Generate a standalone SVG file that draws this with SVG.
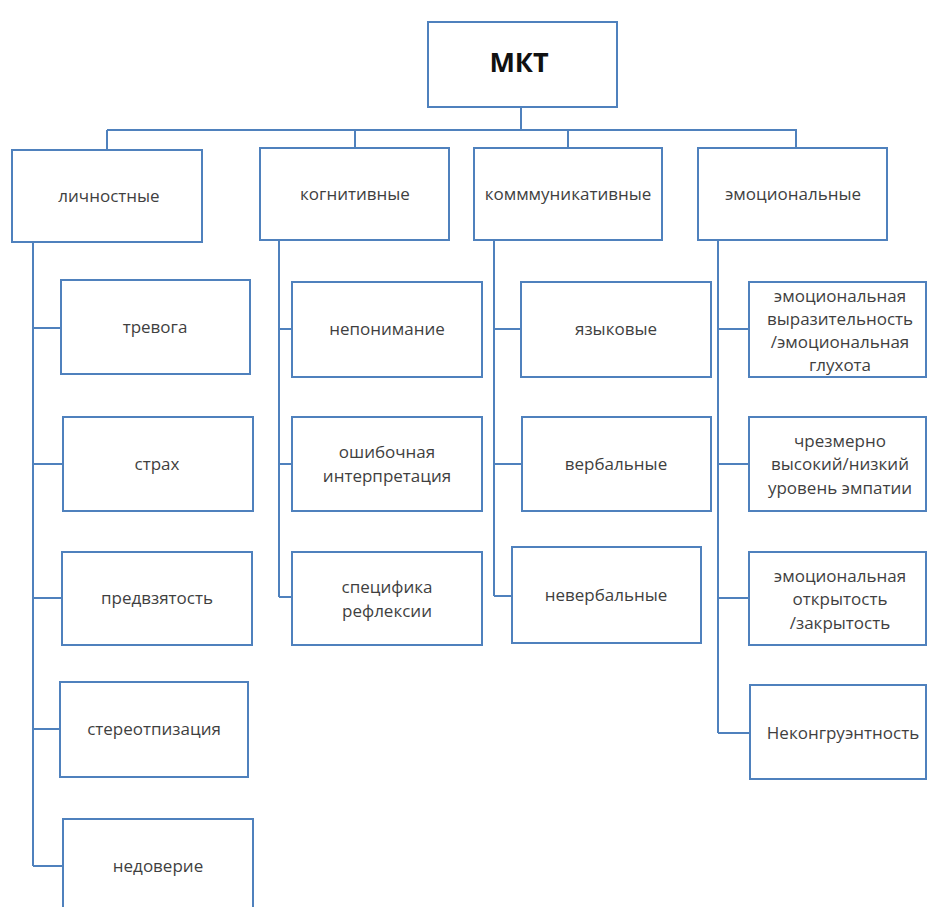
<svg xmlns="http://www.w3.org/2000/svg" width="928" height="907" viewBox="0 0 928 907">
<style>
.b{fill:#fff;stroke:#4f81bd;stroke-width:2}
.c{fill:none;stroke:#4f81bd;stroke-width:2}
.t{font-family:"Open Sans","Noto Sans",sans-serif;font-size:17px;fill:#3f3f3f;text-anchor:middle}
.h{font-family:"Open Sans","Noto Sans",sans-serif;font-size:27px;font-weight:bold;fill:#111;text-anchor:middle}
</style>
<rect width="928" height="907" fill="#fff"/>
<g id="connectors" class="c">
<path d="M521 107V130M107 130H797M107 130V150M355 130V148M568 130V148M796 130V148"/>
<path d="M33 242V866M33 328H61M33 464H63M33 598H62M33 729H60M33 866H63"/>
<path d="M279 240V597M279 329H292M279 464H292M279 597H292"/>
<path d="M494 240V596M494 329H521M494 464H522M494 596H512"/>
<path d="M718 240V733M718 329H749M718 464H749M718 598H749M718 733H750"/>
</g>
<g id="mkt"><rect class="b" x="428" y="22" width="189" height="85"/><text class="h" x="519" y="72">МКТ</text></g>
<g id="lichn"><rect class="b" x="12" y="150" width="190" height="92"/><text class="t" x="109" y="202">личностные</text></g>
<g id="kogn"><rect class="b" x="260" y="148" width="189" height="92"/><text class="t" x="355" y="200">когнитивные</text></g>
<g id="komm"><rect class="b" x="474" y="148" width="188" height="92"/><text class="t" x="568" y="200">комммуникативные</text></g>
<g id="emoc"><rect class="b" x="698" y="148" width="189" height="92"/><text class="t" x="793" y="200">эмоциональные</text></g>
<g id="trevoga"><rect class="b" x="61" y="280" width="189" height="94"/><text class="t" x="155" y="333">тревога</text></g>
<g id="strah"><rect class="b" x="63" y="417" width="190" height="94"/><text class="t" x="157" y="470">страх</text></g>
<g id="predvz"><rect class="b" x="62" y="552" width="190" height="93"/><text class="t" x="157" y="604">предвзятость</text></g>
<g id="stereo"><rect class="b" x="60" y="682" width="188" height="95"/><text class="t" x="154" y="735">стереотпизация</text></g>
<g id="nedover"><rect class="b" x="63" y="819" width="190" height="110"/><text class="t" x="158" y="872">недоверие</text></g>
<g id="neponim"><rect class="b" x="292" y="282" width="190" height="95"/><text class="t" x="387" y="335">непонимание</text></g>
<g id="oshib"><rect class="b" x="292" y="417" width="190" height="94"/><text class="t" x="387" y="458">ошибочная</text><text class="t" x="387" y="482">интерпретация</text></g>
<g id="specif"><rect class="b" x="292" y="552" width="190" height="93"/><text class="t" x="387" y="593">специфика</text><text class="t" x="387" y="617">рефлексии</text></g>
<g id="yazyk"><rect class="b" x="521" y="282" width="190" height="95"/><text class="t" x="616" y="335">языковые</text></g>
<g id="verb"><rect class="b" x="522" y="417" width="189" height="94"/><text class="t" x="616" y="470">вербальные</text></g>
<g id="neverb"><rect class="b" x="512" y="547" width="189" height="96"/><text class="t" x="606" y="601">невербальные</text></g>
<g id="vyraz"><rect class="b" x="749" y="282" width="177" height="95"/><text class="t" x="840" y="302">эмоциональная</text><text class="t" x="840" y="325">выразительность</text><text class="t" x="840" y="348">/эмоциональная</text><text class="t" x="840" y="371">глухота</text></g>
<g id="empat"><rect class="b" x="749" y="417" width="177" height="94"/><text class="t" x="840" y="447">чрезмерно</text><text class="t" x="840" y="470">высокий/низкий</text><text class="t" x="840" y="494">уровень эмпатии</text></g>
<g id="otkryt"><rect class="b" x="749" y="552" width="177" height="93"/><text class="t" x="840" y="582">эмоциональная</text><text class="t" x="840" y="605">открытость</text><text class="t" x="840" y="629">/закрытость</text></g>
<g id="nekongr"><rect class="b" x="750" y="685" width="176" height="94"/><text class="t" x="843" y="739">Неконгруэнтность</text></g>
</svg>
